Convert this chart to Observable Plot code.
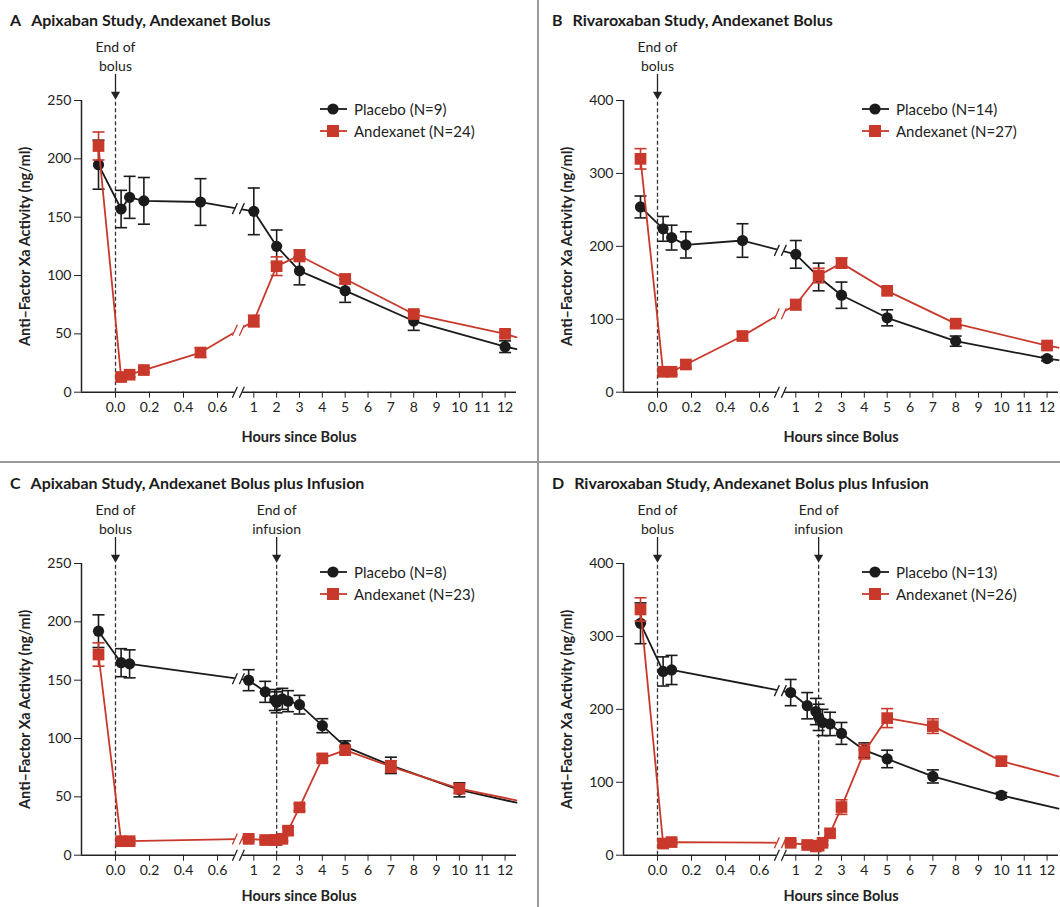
<!DOCTYPE html>
<html><head><meta charset="utf-8">
<script src="https://cdn.jsdelivr.net/npm/d3@7"></script>
<script src="https://cdn.jsdelivr.net/npm/@observablehq/plot@0.6"></script>
<style>
body{margin:0;background:#fff;font-family:Lato,sans-serif;}
#root{position:relative;width:1060px;height:907px;overflow:hidden;background:#fff;}
.panel{position:absolute;}
.panel svg{position:absolute;left:0;top:0;overflow:visible;}
.title{position:absolute;left:10px;top:10px;font-weight:bold;font-size:16px;color:#1b1b1b;white-space:nowrap;line-height:20px;}
.title .lt{margin-right:10px;}
.legend{position:absolute;left:319px;top:98px;font-size:15px;color:#222;}
.legend .row{display:flex;align-items:center;height:22px;}
.legend .row svg{position:static;margin-right:6px;}
.vline{position:absolute;left:537px;top:0;width:2px;height:907px;background:#9a9a9a;}
.hline{position:absolute;left:0;top:461px;width:1060px;height:2px;background:#9a9a9a;}
</style></head><body><div id="root"></div>
<script>
// ---------- data ----------
const xTicks = [0, 0.2, 0.4, 0.6, 1, 2, 3, 4, 5, 6, 7, 8, 9, 10, 11, 12];
const yTicksApix = [0, 50, 100, 150, 200, 250];
const yTicksRiva = [0, 100, 200, 300, 400];

const hoursA = [-0.1, 0.033, 0.083, 0.167, 0.5, 1, 2, 3, 5, 8, 12];
const placeboA = [195, 157, 167, 164, 163, 155, 125, 104, 87, 61, 39];
const placeboErrA = [21, 16, 18, 20, 20, 20, 14, 12, 10, 8, 5];
const andexA = [211, 13, 15, 19, 34, 61, 108, 117, 97, 67, 50];
const andexErrA = [12, 2, 2, 2, 4, 5, 8, 5, 4, 3, 3];
const tailA = [37, 47];

const hoursB = [-0.1, 0.033, 0.083, 0.167, 0.5, 1, 2, 3, 5, 8, 12];
const placeboB = [254, 224, 212, 202, 208, 189, 158, 133, 102, 70, 46];
const placeboErrB = [15, 17, 17, 18, 23, 19, 19, 18, 11, 7, 3];
const andexB = [320, 28, 28, 38, 77, 120, 160, 177, 139, 94, 64];
const andexErrB = [14, 4, 4, 5, 6, 7, 10, 7, 4, 4, 3];
const tailB = [44, 61];

const hoursC = [-0.1, 0.033, 0.083, 0.92, 1.5, 1.92, 2.0, 2.25, 2.5, 3, 4, 5, 7, 10];
const placeboC = [192, 165, 164, 150, 140, 133, 131, 134, 132, 129, 111, 93, 77, 56];
const placeboErrC = [14, 12, 12, 9, 9, 9, 9, 9, 9, 8, 6, 5, 7, 6];
const andexC = [172, 12, 12, 14, 13, 13, 13, 14, 21, 41, 83, 90, 76, 57];
const andexErrC = [10, 2, 2, 2, 2, 2, 2, 2, 3, 3, 3, 3, 5, 4];
const tailC = [45, 47];

const hoursD = [-0.1, 0.033, 0.083, 0.92, 1.5, 1.88, 2.0, 2.17, 2.5, 3, 4, 5, 7, 10];
const placeboD = [318, 252, 254, 223, 205, 197, 189, 182, 180, 167, 144, 132, 108, 82];
const placeboErrD = [28, 20, 20, 18, 18, 18, 18, 18, 16, 15, 10, 12, 9, 4];
const andexD = [337, 16, 18, 17, 14, 12, 13, 17, 30, 66, 142, 188, 177, 129];
const andexErrD = [16, 3, 3, 3, 3, 3, 3, 3, 4, 10, 10, 13, 10, 6];
const tailD = [64, 108];

const titles = ["Apixaban Study, Andexanet Bolus", "Rivaroxaban Study, Andexanet Bolus",
  "Apixaban Study, Andexanet Bolus plus Infusion", "Rivaroxaban Study, Andexanet Bolus plus Infusion"];
const letters = ["A", "B", "C", "D"];
const legendA = ["Placebo (N=9)", "Andexanet (N=24)"];
const legendB = ["Placebo (N=14)", "Andexanet (N=27)"];
const legendC = ["Placebo (N=8)", "Andexanet (N=23)"];
const legendD = ["Placebo (N=13)", "Andexanet (N=26)"];
const annotBolus = [{h: 0, label: "End of\nbolus"}];
const annotInfusion = [{h: 0, label: "End of\nbolus"}, {h: 2, label: "End of\ninfusion"}];
const xLabel = "Hours since Bolus";
const yLabel = "Anti\u2013Factor Xa Activity (ng/ml)";

// ---------- styling / geometry ----------
const BLACK = "#1b1b1b", RED = "#c8392b", INK = "#222";
// broken time axis: hours -> axis position (expanded first hour, compressed rest)
const axisPos = d3.scaleLinear().domain([-0.2, 0.7, 1, 12.5]).range([0, 153, 172.3, 435]);
const hStart = -0.2, hEnd = 12.5, breakAt = 0.76;
const fmtHour = d => { const t = xTicks.find(v => Math.abs(axisPos(v) - d) < 1e-6); return t < 1 ? t.toFixed(1) : String(t); };

const capSymbol = {draw(ctx) { ctx.moveTo(-6, 0); ctx.lineTo(6, 0); }};
const slashSymbol = {draw(ctx) { ctx.moveTo(-6, 5.5); ctx.lineTo(-1, -5.5); ctx.moveTo(1, 5.5); ctx.lineTo(6, -5.5); }};
const gapSymbol = {draw(ctx) { ctx.moveTo(-6, 5.5); ctx.lineTo(-1, -5.5); ctx.lineTo(6, -5.5); ctx.lineTo(1, 5.5); ctx.closePath(); }};
const X = d => axisPos(d.h);

function seriesMarks(hours, values, errs, tail, color, kind) {
  const pts = hours.map((h, i) => ({h, v: values[i], e: errs[i]}));
  const linePts = pts.concat([{h: hEnd, v: tail}]);
  const brk = [];
  for (let i = 0; i < pts.length - 1; i++) {
    const a = pts[i], b = pts[i + 1];
    if (a.h < breakAt && b.h > breakAt) {
      const t = (axisPos(breakAt) - axisPos(a.h)) / (axisPos(b.h) - axisPos(a.h));
      brk.push({h: breakAt, v: a.v + t * (b.v - a.v)});
    }
  }
  return [
    Plot.line(linePts, {x: X, y: "v", stroke: color, strokeWidth: 1.8}),
    Plot.dot(brk, {x: X, y: "v", symbol: gapSymbol, fill: "white", stroke: "white", strokeWidth: 1}),
    Plot.dot(brk, {x: X, y: "v", symbol: slashSymbol, fill: "none", stroke: color, strokeWidth: 1.3}),
    Plot.ruleX(pts, {x: X, y1: d => d.v - d.e, y2: d => d.v + d.e, stroke: color, strokeWidth: 1.6}),
    Plot.dot(pts, {x: X, y: d => d.v + d.e, symbol: capSymbol, fill: "none", stroke: color, strokeWidth: 1.6}),
    Plot.dot(pts, {x: X, y: d => d.v - d.e, symbol: capSymbol, fill: "none", stroke: color, strokeWidth: 1.6}),
    kind === "circle"
      ? Plot.dot(pts, {x: X, y: "v", r: 5.6, fill: color, stroke: "none"})
      : Plot.dot(pts, {x: X, y: "v", symbol: "square", r: 6.6, fill: color, stroke: "none"})
  ];
}

function makePanel(cfg) {
  const {left, top, width, height, yMax, yTicks, annots, legend, idx, placebo, andex, xLabelDy} = cfg;
  const wrap = document.createElement("div");
  wrap.className = "panel";
  Object.assign(wrap.style, {left: left + "px", top: top + "px", width: width + "px", height: height + "px"});
  const marks = [
    Plot.ruleY([0], {stroke: INK, strokeWidth: 1.5}),
    Plot.ruleX([hStart], {x: d => axisPos(d), y1: () => 0, y2: () => yMax, stroke: INK, strokeWidth: 1.5}),
    Plot.dot([{h: breakAt}], {x: X, y: () => 0, symbol: gapSymbol, fill: "white", stroke: "white", strokeWidth: 1}),
    Plot.dot([{h: breakAt}], {x: X, y: () => 0, symbol: slashSymbol, fill: "none", stroke: INK, strokeWidth: 1.3}),
    Plot.ruleX(annots, {x: X, y1: () => 0, y2: () => yMax, stroke: "#333", strokeWidth: 1.3, strokeDasharray: "4,2.5"}),
    Plot.ruleX(annots, {x: X, y1: () => yMax, y2: () => yMax, insetTop: -26, insetBottom: 6, stroke: INK, strokeWidth: 1.3}),
    Plot.dot(annots, {x: X, y: () => yMax, symbol: "triangle", rotate: 180, r: 3.4, dy: -6, fill: INK, stroke: "none"}),
    Plot.text(annots, {x: X, y: () => yMax, text: "label", dy: -30, lineAnchor: "bottom", lineHeight: 1.3, fontSize: 14, fill: INK}),
    Plot.text([xLabel], {frameAnchor: "bottom", dy: xLabelDy, text: d => d, lineAnchor: "middle", textAnchor: "middle", fontWeight: "bold", fontSize: 14.5, fill: INK}),
    Plot.text([yLabel], {frameAnchor: "left", dx: -56, rotate: -90, text: d => d, textAnchor: "middle", lineAnchor: "middle", fontWeight: "bold", fontSize: 14.5, fill: INK}),
    ...seriesMarks(...placebo, BLACK, "circle"),
    ...seriesMarks(...andex, RED, "square")
  ];
  const svg = Plot.plot({
    width, height,
    marginLeft: 81, marginTop: 100, marginRight: width - 516, marginBottom: height - 391.7,
    x: {domain: [axisPos(hStart), axisPos(hEnd)], ticks: xTicks.map(v => axisPos(v)), tickFormat: fmtHour, tickSize: 6, tickPadding: 4, label: null},
    y: {domain: [0, yMax], ticks: yTicks, tickSize: 7, tickPadding: 3, label: null},
    style: {fontFamily: "Lato, sans-serif", fontSize: "14px", color: INK, background: "transparent", overflow: "visible"},
    marks
  });
  wrap.appendChild(svg);
  const t = document.createElement("div");
  t.className = "title";
  t.innerHTML = `<span class="lt">${letters[idx]}</span>${titles[idx]}`;
  wrap.appendChild(t);
  const lg = document.createElement("div");
  lg.className = "legend";
  [[legend[0], BLACK, "circle"], [legend[1], RED, "square"]].forEach(([txt, c, k]) => {
    const row = document.createElement("div");
    row.className = "row";
    const m = k === "circle" ? `<circle cx="14" cy="11" r="5.6" fill="${c}"/>` : `<rect x="8" y="5" width="12" height="12" fill="${c}"/>`;
    row.innerHTML = `<svg width="29" height="22"><line x1="1" x2="28" y1="11" y2="11" stroke="${c}" stroke-width="1.8"/>${m}</svg><span>${txt}</span>`;
    lg.appendChild(row);
  });
  wrap.appendChild(lg);
  return wrap;
}

const root = document.getElementById("root");
root.appendChild(makePanel({left: 0, top: 0, width: 538, height: 462, yMax: 250, yTicks: yTicksApix, annots: annotBolus, legend: legendA, idx: 0, xLabelDy: 45,
  placebo: [hoursA, placeboA, placeboErrA, tailA[0]], andex: [hoursA, andexA, andexErrA, tailA[1]]}));
root.appendChild(makePanel({left: 542, top: 0, width: 518, height: 462, yMax: 400, yTicks: yTicksRiva, annots: annotBolus, legend: legendB, idx: 1, xLabelDy: 45,
  placebo: [hoursB, placeboB, placeboErrB, tailB[0]], andex: [hoursB, andexB, andexErrB, tailB[1]]}));
root.appendChild(makePanel({left: 0, top: 463, width: 538, height: 444, yMax: 250, yTicks: yTicksApix, annots: annotInfusion, legend: legendC, idx: 2, xLabelDy: 41,
  placebo: [hoursC, placeboC, placeboErrC, tailC[0]], andex: [hoursC, andexC, andexErrC, tailC[1]]}));
root.appendChild(makePanel({left: 542, top: 463, width: 518, height: 444, yMax: 400, yTicks: yTicksRiva, annots: annotInfusion, legend: legendD, idx: 3, xLabelDy: 41,
  placebo: [hoursD, placeboD, placeboErrD, tailD[0]], andex: [hoursD, andexD, andexErrD, tailD[1]]}));
const v = document.createElement("div"); v.className = "vline"; root.appendChild(v);
const hl = document.createElement("div"); hl.className = "hline"; root.appendChild(hl);
</script>
</body></html>
